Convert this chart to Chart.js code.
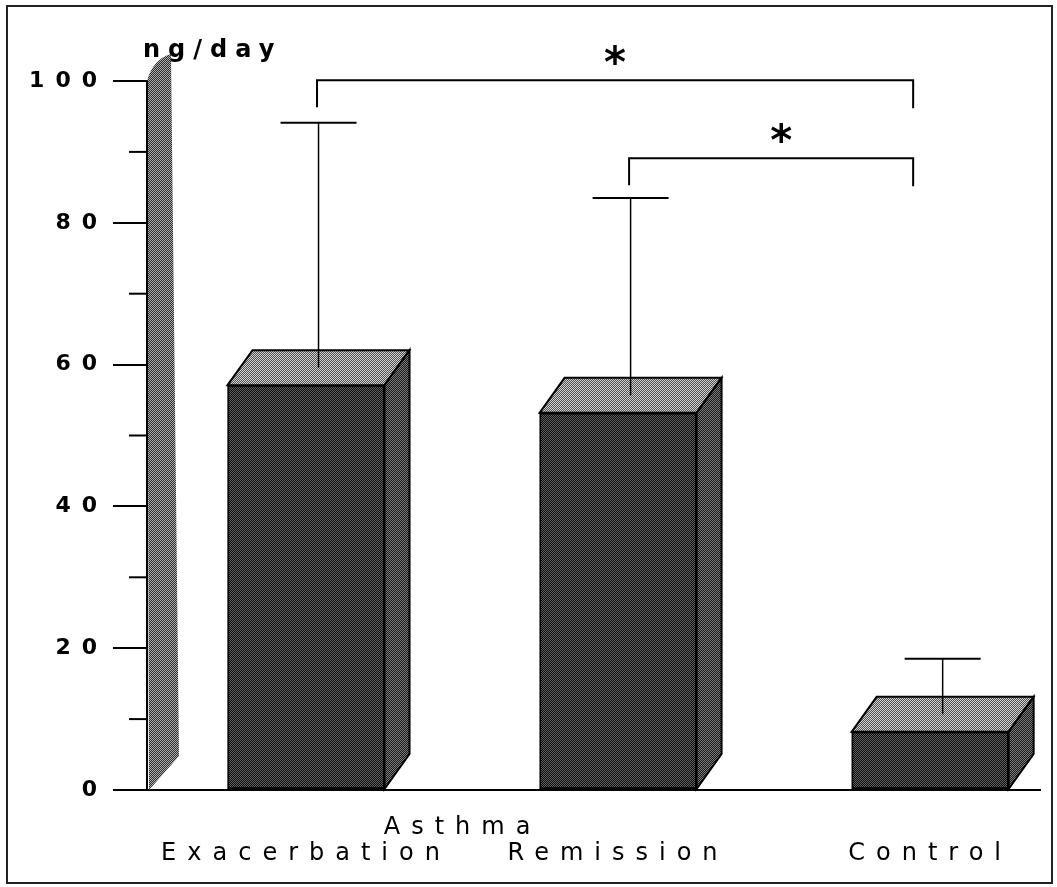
<!DOCTYPE html>
<html><head><meta charset="utf-8">
<script src="https://cdn.jsdelivr.net/npm/chart.js@4.4.1/dist/chart.umd.min.js"></script>
<style>html,body{margin:0;padding:0;background:#fff;overflow:hidden}canvas{display:block}</style>
</head><body>
<canvas id="c" width="1057" height="887"></canvas>
<script>
// ---- data ----
const categories = ['Exacerbation', 'Remission', 'Control'];
const groupLabel = 'Asthma';
const meanValues = [57.1, 53.2, 8.2];
const errorTops = [94.1, 83.5, 18.5];
const yTicks = [0, 20, 40, 60, 80, 100];
const yMinorTicks = [10, 30, 50, 70, 90];
const yUnit = 'ng/day';
const comparisonFrom = [0, 1];
const comparisonTo = [2, 2];
const comparisonLevel = [100.1, 89.1];
const comparisonMark = ['*', '*'];

// ---- style ----
const FONT = 'DejaVu Sans';
const LS = '11px';
const DX = 25, DY = -35;
Chart.defaults.font.family = FONT;
Chart.defaults.color = '#000';

const canvas = document.getElementById('c');
const ctx0 = canvas.getContext('2d');
function makePattern(a, b) {
  const c = document.createElement('canvas'); c.width = 2; c.height = 2;
  const g = c.getContext('2d');
  g.fillStyle = a; g.fillRect(0, 0, 2, 2);
  g.fillStyle = b; g.fillRect(0, 0, 1, 1); g.fillRect(1, 1, 1, 1);
  return ctx0.createPattern(c, 'repeat');
}
const frontPat = makePattern('#0e0e0e', '#606060');
const topPat = makePattern('#505050', '#d2d2d2');
const sidePat = makePattern('#1a1a1a', '#7a7a7a');
const wallPat = makePattern('#2e2e2e', '#acacac');

function setLS(c) { c.ctx.letterSpacing = LS; }

const deco = {
  id: 'deco',
  afterInit: setLS,
  beforeUpdate: setLS,
  beforeLayout: setLS,
  beforeDraw: setLS,
  beforeDatasetsDraw(c) {
    const ctx = c.ctx, ys = c.scales.y, L = c.chartArea.left;
    const yTop = ys.getPixelForValue(100), yBot = ys.getPixelForValue(0);
    ctx.save();
    ctx.beginPath();
    ctx.moveTo(L, yTop);
    ctx.quadraticCurveTo(L + 6, yTop - 22, L + 24, yTop - 27);
    ctx.lineTo(L + 32, yBot - 34);
    ctx.lineTo(L + 2, yBot);
    ctx.closePath();
    ctx.fillStyle = wallPat; ctx.fill();
    ctx.strokeStyle = '#000'; ctx.lineWidth = 2;
    ctx.beginPath(); ctx.moveTo(L, yTop); ctx.lineTo(L, yBot); ctx.stroke();
    yMinorTicks.forEach(v => {
      const p = ys.getPixelForValue(v);
      ctx.beginPath(); ctx.moveTo(L - 18, p); ctx.lineTo(L, p); ctx.stroke();
    });
    ctx.restore();
  },
  afterDatasetsDraw(c) {
    const ctx = c.ctx, ys = c.scales.y, meta = c.getDatasetMeta(0);
    ctx.save();
    ctx.letterSpacing = '0px';
    ctx.lineJoin = 'miter';
    meta.data.forEach((el, i) => {
      const w = el.width, l = el.x - w / 2, r = el.x + w / 2, y = el.y, b = el.base;
      ctx.beginPath();
      ctx.moveTo(l, y); ctx.lineTo(l + DX, y + DY); ctx.lineTo(r + DX, y + DY); ctx.lineTo(r, y); ctx.closePath();
      ctx.fillStyle = topPat; ctx.fill();
      ctx.strokeStyle = '#000'; ctx.lineWidth = 2; ctx.stroke();
      ctx.beginPath();
      ctx.moveTo(r, y); ctx.lineTo(r + DX, y + DY); ctx.lineTo(r + DX, b + DY); ctx.lineTo(r, b); ctx.closePath();
      ctx.fillStyle = sidePat; ctx.fill(); ctx.stroke();
      const ex = el.x + DX / 2;
      const ey = ys.getPixelForValue(errorTops[i]);
      ctx.lineWidth = 1.5;
      ctx.beginPath(); ctx.moveTo(ex, y + DY / 2); ctx.lineTo(ex, ey); ctx.stroke();
      ctx.lineWidth = 2;
      ctx.beginPath(); ctx.moveTo(ex - 38, ey); ctx.lineTo(ex + 38, ey); ctx.stroke();
    });
    comparisonFrom.forEach((a, k) => {
      const x1 = meta.data[a].x + 11;
      const x2 = meta.data[comparisonTo[k]].x - 17;
      const yb = ys.getPixelForValue(comparisonLevel[k]);
      ctx.lineWidth = 2; ctx.strokeStyle = '#000';
      ctx.beginPath();
      ctx.moveTo(x1, yb + 27); ctx.lineTo(x1, yb); ctx.lineTo(x2, yb); ctx.lineTo(x2, yb + 28);
      ctx.stroke();
      ctx.font = 'bold 42px ' + FONT;
      ctx.fillStyle = '#000'; ctx.textAlign = 'center'; ctx.textBaseline = 'alphabetic';
      const m = ctx.measureText(comparisonMark[k]);
      const cy = yb - 25;
      ctx.fillText(comparisonMark[k], (x1 + x2) / 2 + (k === 1 ? 10 : 0), cy + (m.actualBoundingBoxAscent - m.actualBoundingBoxDescent) / 2);
    });
    ctx.restore();
  },
  afterDraw(c) {
    const ctx = c.ctx, L = c.chartArea.left, meta = c.getDatasetMeta(0);
    ctx.save();
    ctx.fillStyle = '#000';
    ctx.textBaseline = 'alphabetic';
    ctx.textAlign = 'left';
    ctx.letterSpacing = '8px';
    ctx.font = 'bold 24px ' + FONT;
    ctx.fillText(yUnit, L - 4, 57);
    ctx.letterSpacing = LS;
    ctx.font = '24px ' + FONT;
    const gw = ctx.measureText(groupLabel).width - 11;
    const gc = (meta.data[0].x + meta.data[1].x) / 2 - 5;
    ctx.fillText(groupLabel, gc - gw / 2, 834);
    ctx.strokeStyle = '#222'; ctx.lineWidth = 2;
    ctx.strokeRect(7, 6, 1045, 877);
    ctx.restore();
  }
};

const chart = new Chart(ctx0, {
  type: 'bar',
  data: {
    datasets: [{
      data: meanValues.map((v, i) => ({ x: i, y: v })),
      backgroundColor: frontPat,
      borderColor: '#000',
      borderWidth: 2,
      borderSkipped: false,
      barThickness: 157
    }]
  },
  options: {
    responsive: false,
    animation: false,
    events: [],
    layout: { padding: { left: 0, right: 17, top: 81, bottom: 0 } },
    plugins: { legend: { display: false }, tooltip: { enabled: false } },
    scales: {
      x: {
        type: 'linear',
        offset: false,
        min: -0.5096, max: 2.352,
        afterBuildTicks: s => { s.ticks = categories.map((c, i) => ({ value: i })); },
        afterFit: s => { s.height = 97; s.paddingLeft = 0; s.paddingRight = 0; },
        ticks: { callback: v => categories[v], font: { size: 24 }, padding: 49, maxRotation: 0, autoSkip: false, color: '#000' },
        grid: { display: false, drawTicks: false, offset: false },
        border: { display: true, color: '#000', width: 2 }
      },
      y: {
        min: 0, max: 100,
        afterBuildTicks: s => { s.ticks = yTicks.map(v => ({ value: v })); },
        afterFit: s => { s.width = 147; s.paddingTop = 0; s.paddingBottom = 0; },
        ticks: { font: { size: 22, weight: 'bold' }, padding: 5, color: '#000' },
        grid: { drawOnChartArea: false, tickLength: 34, color: '#000', lineWidth: 2 },
        border: { display: true, color: '#000', width: 2 }
      }
    }
  },
  plugins: [deco]
});
</script>
</body></html>
